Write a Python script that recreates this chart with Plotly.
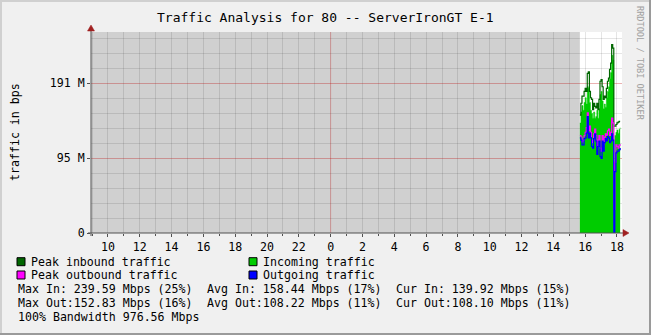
import plotly.graph_objects as go

# ---------------- data ----------------
times = ["2010-01-02 15:40", "2010-01-02 15:44", "2010-01-02 15:48", "2010-01-02 15:52",
         "2010-01-02 15:56", "2010-01-02 16:00", "2010-01-02 16:04", "2010-01-02 16:08",
         "2010-01-02 16:12", "2010-01-02 16:16", "2010-01-02 16:20", "2010-01-02 16:24",
         "2010-01-02 16:28", "2010-01-02 16:32", "2010-01-02 16:36", "2010-01-02 16:40",
         "2010-01-02 16:44", "2010-01-02 16:48", "2010-01-02 16:52", "2010-01-02 16:56",
         "2010-01-02 17:00", "2010-01-02 17:04", "2010-01-02 17:08", "2010-01-02 17:12",
         "2010-01-02 17:16", "2010-01-02 17:20", "2010-01-02 17:24", "2010-01-02 17:28",
         "2010-01-02 17:32", "2010-01-02 17:36", "2010-01-02 17:40", "2010-01-02 17:44",
         "2010-01-02 17:48", "2010-01-02 17:52", "2010-01-02 17:56", "2010-01-02 18:00",
         "2010-01-02 18:04", "2010-01-02 18:08", "2010-01-02 18:12"]

peak_in = [150, 165, 174, 174, 180, 184, 180, 203, 205, 180, 172, 170, 157, 165, 161, 159,
           165, 157, 170, 193, 195, 186, 170, 174, 172, 184, 193, 197, 208, 216, 239.6, 235,
           136, 136, 138, 140, 141, 142, 142]
incoming = [140, 154, 162, 156, 166, 172, 164, 186, 184, 166, 156, 152, 146, 154, 146, 148,
            156, 146, 158, 176, 180, 168, 158, 164, 160, 172, 180, 186, 196, 204, 226, 220,
            0, 124, 128, 131, 127, 132, 134]
peak_out = [124, 122, 116, 118, 124, 128, 134, 152.8, 130, 136, 128, 118, 115, 126, 132, 124,
            110, 118, 124, 108, 104, 124, 112, 122, 126, 124, 130, 132, 124, 128, 146, 140,
            30, 90, 112, 110, 108, 112, 111]
outgoing = [121, 118, 112, 112, 120, 121, 127, 148, 121, 127, 121, 110, 108, 120, 126, 117,
            100, 110, 117, 97, 95, 117, 104, 115, 120, 117, 123, 121, 115, 117, 126, 118,
            0, 78, 102, 104, 104, 106, 108.1]

y_tick_vals = [0, 95.367, 190.735]
y_tick_text = ["0", "95 M", "191 M"]

legend_names = ["Peak inbound traffic", "Incoming traffic", "Peak outbound traffic", "Outgoing traffic"]
stats_rows = [
    ["Max In: 239.59 Mbps (25%)", "Avg In: 158.44 Mbps (17%)", "Cur In: 139.92 Mbps (15%)"],
    ["Max Out:152.83 Mbps (16%)", "Avg Out:108.22 Mbps (11%)", "Cur Out:108.10 Mbps (11%)"],
]
bandwidth_text = "100% Bandwidth 976.56 Mbps"
title_text = "Traffic Analysis for 80 -- ServerIronGT E-1"

# ---------------- style ----------------
W, H = 651, 335
PL, PR, PT, PB = 91, 622, 32, 233
FONT = "DejaVu Sans Mono"
C_PEAK_IN = "#006600"
C_IN = "#00cc00"
C_PEAK_OUT = "#ff00ff"
C_OUT = "#0000ff"
GRID = "rgba(0,0,0,0.10)"
MGRID = "rgba(255,0,0,0.22)"
AXIS = "#505050"
ARROW = "#a02020"

def px(x):
    return (x - PL) / (PR - PL)

def py(y):
    return (PB - y) / (PB - PT)

fig = go.Figure()
fig.add_trace(go.Scatter(x=times, y=incoming, mode="lines", line=dict(color=C_IN, width=0.5, shape="hv"),
                         fill="tozeroy", fillcolor=C_IN, showlegend=False, hoverinfo="skip"))
fig.add_trace(go.Scatter(x=times, y=peak_in, mode="lines", line=dict(color=C_PEAK_IN, width=1.2, shape="hv"),
                         showlegend=False, hoverinfo="skip"))
fig.add_trace(go.Scatter(x=times, y=peak_out, mode="lines", line=dict(color=C_PEAK_OUT, width=1.2, shape="hv"),
                         showlegend=False, hoverinfo="skip"))
fig.add_trace(go.Scatter(x=times, y=outgoing, mode="lines", line=dict(color=C_OUT, width=1.2, shape="hv"),
                         showlegend=False, hoverinfo="skip"))

shapes = []
# unknown-data shading
shapes.append(dict(type="rect", xref="x", yref="paper", x0="2010-01-01 08:56", x1=times[0], y0=0, y1=1,
                   fillcolor="#d0d0d0", line=dict(width=0), layer="below"))
# midnight major grid line
shapes.append(dict(type="line", xref="x", yref="paper", x0="2010-01-02 00:00", x1="2010-01-02 00:00",
                   y0=0, y1=1, line=dict(color=MGRID, width=1), layer="above"))
# axis lines extended + arrows
shapes.append(dict(type="line", xref="paper", yref="paper", x0=px(88), x1=px(625), y0=py(233), y1=py(233),
                   line=dict(color=AXIS, width=1), layer="above"))
shapes.append(dict(type="line", xref="paper", yref="paper", x0=px(91), x1=px(91), y0=py(236), y1=py(29),
                   line=dict(color=AXIS, width=1), layer="above"))
shapes.append(dict(type="path", xref="paper", yref="paper",
                   path=f"M {px(623)} {py(229.5)} L {px(629)} {py(233)} L {px(623)} {py(236.5)} Z",
                   fillcolor=ARROW, line=dict(color=ARROW, width=0.5), layer="above"))
shapes.append(dict(type="path", xref="paper", yref="paper",
                   path=f"M {px(87.5)} {py(31)} L {px(91)} {py(25)} L {px(94.5)} {py(31)} Z",
                   fillcolor=ARROW, line=dict(color=ARROW, width=0.5), layer="above"))
# frame
shapes.append(dict(type="rect", xref="paper", yref="paper", x0=px(0), x1=px(651), y0=py(0), y1=py(2),
                   fillcolor="#d0d0d0", line=dict(width=0), layer="above"))
shapes.append(dict(type="rect", xref="paper", yref="paper", x0=px(0), x1=px(2), y0=py(0), y1=py(335),
                   fillcolor="#d0d0d0", line=dict(width=0), layer="above"))
shapes.append(dict(type="rect", xref="paper", yref="paper", x0=px(0), x1=px(651), y0=py(333), y1=py(335),
                   fillcolor="#9a9a9a", line=dict(width=0), layer="above"))
shapes.append(dict(type="rect", xref="paper", yref="paper", x0=px(649), x1=px(651), y0=py(0), y1=py(335),
                   fillcolor="#9a9a9a", line=dict(width=0), layer="above"))

annotations = []
def text(x, y, s, size=11.6, color="#000000", anchor="left", angle=0):
    annotations.append(dict(xref="paper", yref="paper", x=px(x), y=py(y), text=s, showarrow=False,
                            xanchor=anchor, yanchor="middle", borderpad=0, textangle=angle,
                            font=dict(family=FONT, size=size, color=color)))

text(325.5, 17, title_text, size=13, anchor="center")
text(15, 132, "traffic in bps", anchor="center", angle=-90)
text(640, 63, "RRDTOOL / TOBI OETIKER", size=8.6, color="#a0a0a0", anchor="center", angle=90)

legend_colors = [C_PEAK_IN, C_IN, C_PEAK_OUT, C_OUT]
leg_pos = [(17, 261.7), (249, 261.7), (17, 275), (249, 275)]
for name, col, (lx, ly) in zip(legend_names, legend_colors, leg_pos):
    shapes.append(dict(type="rect", xref="paper", yref="paper", x0=px(lx), x1=px(lx + 8),
                       y0=py(ly - 4), y1=py(ly + 4), fillcolor=col, line=dict(color="#000000", width=1),
                       layer="above"))
    text(lx + 13, ly, name)

col_x = [16.7, 205.7, 394.7]
for row, ry in zip(stats_rows, [289.3, 303.2]):
    for s, cx in zip(row, col_x):
        text(cx, ry, s)
text(16.7, 316.8, bandwidth_text)

fig.update_layout(
    width=W, height=H, autosize=False,
    margin=dict(l=PL, r=W - PR, t=PT, b=H - PB, pad=0),
    paper_bgcolor="#f0f0f0", plot_bgcolor="#ffffff",
    shapes=shapes, annotations=annotations, showlegend=False,
    font=dict(family=FONT, size=11.6, color="#000000"),
)
fig.update_xaxes(
    type="date", range=["2010-01-01 08:56", "2010-01-02 18:19"],
    tick0="2010-01-01 00:00", dtick=7200000, tickformat="%-H",
    showgrid=True, gridcolor=GRID, gridwidth=1, zeroline=False,
    showline=False, ticks="outside", ticklen=3, tickcolor=AXIS,
    tickfont=dict(family=FONT, size=11.6, color="#000000"),
    minor=dict(dtick=3600000, tick0="2010-01-01 00:00", showgrid=True, gridcolor=GRID,
               ticks="outside", ticklen=2, tickcolor=AXIS),
    layer="above traces", fixedrange=True,
)
fig.update_yaxes(
    range=[0, 255.6], tickmode="array", tickvals=y_tick_vals, ticktext=y_tick_text,
    showgrid=True, gridcolor=MGRID, gridwidth=1, zeroline=False, showline=False,
    ticks="outside", ticklen=3, tickcolor=AXIS,
    tickfont=dict(family=FONT, size=11.6, color="#000000"),
    minor=dict(tickmode="linear", tick0=0, dtick=19.0735, showgrid=True, gridcolor=GRID),
    layer="above traces", fixedrange=True,
)

fig.write_html("out.html", config={"displayModeBar": False})
